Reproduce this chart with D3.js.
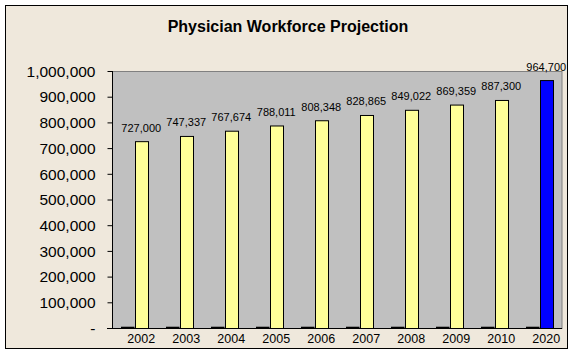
<!DOCTYPE html>
<html>
<head>
<meta charset="utf-8">
<script src="https://cdn.jsdelivr.net/npm/d3@7"></script>
<style>
  html, body { margin: 0; padding: 0; background: #ffffff; }
  svg { display: block; }
  text { font-family: Arial, "Liberation Sans", sans-serif; fill: #000; }
</style>
</head>
<body>
<svg id="chart" width="573" height="355"></svg>
<script>
// ---- data ----
const title = "Physician Workforce Projection";
const years = ["2002","2003","2004","2005","2006","2007","2008","2009","2010","2020"];
const physicians = [727000, 747337, 767674, 788011, 808348, 828865, 849022, 869359, 887300, 964700];
const baseSeries = [5000, 5000, 5000, 5000, 5000, 5000, 5000, 5000, 5000, 5000];
const yTicks = [0, 100000, 200000, 300000, 400000, 500000, 600000, 700000, 800000, 900000, 1000000];
const projectedYear = "2020";

// ---- layout ----
const svg = d3.select("#chart");
const plot = { left: 112, right: 562, top: 71, bottom: 328 };

// outer frame
svg.append("rect")
  .attr("x", 5.5).attr("y", 5.5).attr("width", 562).attr("height", 343)
  .attr("fill", "#EFE8DC").attr("stroke", "#000").attr("stroke-width", 1);

// title
svg.append("text")
  .attr("x", 288).attr("y", 32)
  .attr("text-anchor", "middle")
  .attr("font-size", 16).attr("font-weight", "bold")
  .text(title);

const y = d3.scaleLinear().domain([0, 1000000]).range([plot.bottom, plot.top]);
const x = d3.scaleBand().domain(years).range([plot.left, plot.right]).paddingInner(0).paddingOuter(0);
const xSub = d3.scaleBand().domain(["base", "phys"]).range([0, x.bandwidth()]).paddingInner(0).paddingOuter(0.667);

// plot area
svg.append("rect")
  .attr("x", plot.left + 0.5).attr("y", plot.top + 0.5)
  .attr("width", plot.right - plot.left - 0.5).attr("height", plot.bottom - plot.top)
  .attr("fill", "#C0C0C0").attr("stroke", "#808080").attr("stroke-width", 1);

// base series (tiny dark bars)
svg.append("g").selectAll("rect")
  .data(years.map((yr, i) => ({ yr, v: baseSeries[i] })))
  .join("rect")
  .attr("x", d => x(d.yr) + xSub("base"))
  .attr("y", d => y(d.v))
  .attr("width", xSub.bandwidth())
  .attr("height", d => y(0) - y(d.v))
  .attr("fill", "#000");

// physician bars
const bars = years.map((yr, i) => ({ yr, v: physicians[i] }));
svg.append("g").selectAll("rect")
  .data(bars)
  .join("rect")
  .attr("x", d => Math.round(x(d.yr) + xSub("phys")) + 0.5)
  .attr("y", d => y(d.v) + 0.5)
  .attr("width", Math.round(xSub.bandwidth()))
  .attr("height", d => y(0) - y(d.v))
  .attr("fill", d => d.yr === projectedYear ? "#0000FF" : "#FFFF99")
  .attr("stroke", "#000").attr("stroke-width", 1);

// data labels
const fmt = d3.format(",");
svg.append("g").selectAll("text")
  .data(bars)
  .join("text")
  .attr("x", d => x(d.yr) + xSub("phys") + xSub.bandwidth() / 2)
  .attr("y", d => y(d.v) - 9.5)
  .attr("text-anchor", "middle")
  .attr("font-size", 11)
  .text(d => fmt(d.v));

// y axis
const yAxis = d3.axisLeft(y)
  .tickValues(yTicks)
  .tickSize(5)
  .tickPadding(12)
  .tickFormat(d => d === 0 ? "-" : fmt(d));
const gy = svg.append("g")
  .attr("transform", `translate(${plot.left + 0.5},0)`)
  .call(yAxis);
gy.select(".domain").attr("stroke", "#000").attr("d", `M0,${plot.top}V${plot.bottom + 0.5}`);
gy.selectAll(".tick line").attr("stroke", "#000");
gy.selectAll(".tick text")
  .attr("font-size", 15.5)
  .attr("font-family", "Arial, 'Liberation Sans', sans-serif")
  .attr("fill", "#000")
  .attr("dy", "0.34em");

// x axis
const xAxis = d3.axisBottom(x).tickSize(0).tickPadding(6);
const gx = svg.append("g")
  .attr("transform", `translate(0,${plot.bottom + 0.5})`)
  .call(xAxis);
gx.select(".domain").attr("stroke", "#000").attr("d", `M${plot.left - 5},0H${plot.right}`);
gx.selectAll(".tick")
  .attr("transform", d => `translate(${x(d) + xSub("phys") + xSub.bandwidth() / 2},0)`);
gx.selectAll(".tick text")
  .attr("font-size", 12.5)
  .attr("font-family", "Arial, 'Liberation Sans', sans-serif")
  .attr("fill", "#000")
  .attr("y", 6).attr("dy", "0.71em");
</script>
</body>
</html>
